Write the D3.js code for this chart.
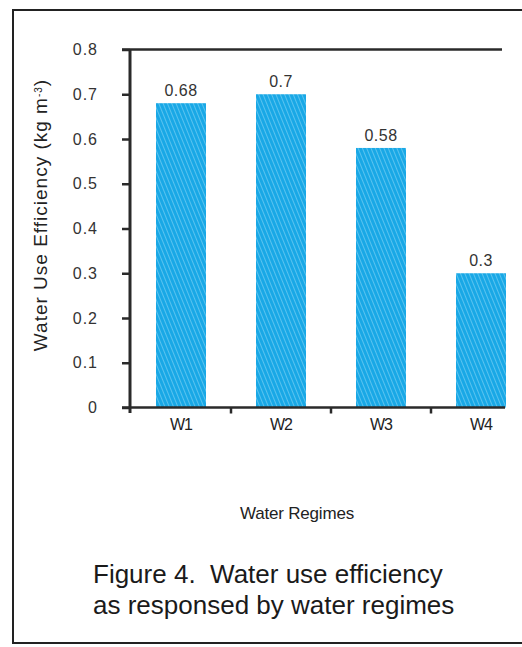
<!DOCTYPE html>
<html>
<head>
<meta charset="utf-8">
<script src="https://cdn.jsdelivr.net/npm/d3@7"></script>
<style>
  body { margin: 0; background: #fff; }
  svg { display: block; font-family: "Liberation Sans", Arial, sans-serif; }
</style>
</head>
<body>
<div id="chart-area"></div>
<script>
// Data
const regimes = ['W1', 'W2', 'W3', 'W4']
const wue = [0.68, 0.7, 0.58, 0.3]
const yTicks = [0, 0.1, 0.2, 0.3, 0.4, 0.5, 0.6, 0.7, 0.8]

const W = 522, H = 647
const svg = d3.select('#chart-area').append('svg')
	.attr('width', W)
	.attr('height', H)

// hatched fill
const pat = svg.append('defs').append('pattern')
	.attr('id', 'hatch')
	.attr('patternUnits', 'userSpaceOnUse')
	.attr('width', 4)
	.attr('height', 4)
	.attr('patternTransform', 'rotate(-22)')
pat.append('rect')
	.attr('width', 4).attr('height', 4)
	.attr('fill', '#19a8e6')
pat.append('line')
	.attr('x1', 0).attr('y1', 0).attr('x2', 0).attr('y2', 4)
	.attr('stroke', '#86d5f5')
	.attr('stroke-width', 1.2)

// frame
svg.append('path')
	.attr('d', `M${W},10 L13,10 L13,643 L${W},643`)
	.attr('fill', 'none')
	.attr('stroke', '#222')
	.attr('stroke-width', 2)

// Scales
const x = d3.scaleBand()
	.domain(regimes)
	.range([131, 531])
	.paddingInner(0.5)
	.paddingOuter(0.25)

const y = d3.scaleLinear()
	.domain([0, 0.8])
	.range([407.5, 49.5])

const axisColor = '#2a2a2a'

// bars
svg.selectAll('rect.bar')
	.data(regimes)
	.enter().append('rect')
	.attr('class', 'bar')
	.attr('x', d => x(d))
	.attr('width', x.bandwidth())
	.attr('y', (d, i) => y(wue[i]))
	.attr('height', (d, i) => y(0) - y(wue[i]))
	.attr('fill', 'url(#hatch)')

// value labels
svg.selectAll('text.val')
	.data(regimes)
	.enter().append('text')
	.attr('class', 'val')
	.attr('x', d => x(d) + x.bandwidth() / 2)
	.attr('y', (d, i) => y(wue[i]) - 7)
	.attr('text-anchor', 'middle')
	.attr('font-size', '16px')
	.attr('letter-spacing', '0.5px')
	.attr('fill', '#333')
	.text((d, i) => wue[i])

// y axis
const yAxis = svg.append('g')
	.attr('transform', 'translate(130,0)')
	.call(d3.axisLeft(y).tickValues(yTicks).tickSize(8).tickPadding(24)
		.tickFormat(d => d === 0 ? '0' : d3.format('.1f')(d)))
yAxis.select('.domain').remove()
yAxis.selectAll('line').attr('stroke', axisColor).attr('stroke-width', 2.5)
yAxis.selectAll('text').attr('font-size', '16px').attr('fill', '#333')
	.attr('letter-spacing', '1px')
	.attr('font-family', '"Liberation Sans", Arial, sans-serif')

svg.append('line')
	.attr('x1', 130).attr('x2', 130)
	.attr('y1', y(0.8)).attr('y2', 413)
	.attr('stroke', axisColor).attr('stroke-width', 3)

// top line at 0.8
svg.append('line')
	.attr('x1', 122).attr('x2', 502)
	.attr('y1', y(0.8)).attr('y2', y(0.8))
	.attr('stroke', axisColor).attr('stroke-width', 2.5)

// x axis
svg.append('line')
	.attr('x1', 122).attr('x2', 505)
	.attr('y1', y(0)).attr('y2', y(0))
	.attr('stroke', axisColor).attr('stroke-width', 2.5)

const bounds = regimes.slice(1).map(d => x(d) - x.step() * x.paddingInner() / 2)
svg.selectAll('line.xtick')
	.data(bounds)
	.enter().append('line')
	.attr('class', 'xtick')
	.attr('x1', d => d).attr('x2', d => d)
	.attr('y1', y(0)).attr('y2', y(0) + 6)
	.attr('stroke', axisColor).attr('stroke-width', 2.5)

svg.selectAll('text.xlab')
	.data(regimes)
	.enter().append('text')
	.attr('class', 'xlab')
	.attr('x', d => x(d) + x.bandwidth() / 2)
	.attr('y', 430)
	.attr('text-anchor', 'middle')
	.attr('font-size', '16px')
	.attr('letter-spacing', '-1px')
	.attr('fill', '#222')
	.text(d => d)

// axis titles
const yTitle = svg.append('text')
	.attr('transform', 'translate(47,215) rotate(-90)')
	.attr('text-anchor', 'middle')
	.attr('font-size', '19px')
	.attr('letter-spacing', '1px')
	.attr('fill', '#222')
yTitle.append('tspan').text('Water Use Efficiency (kg m')
yTitle.append('tspan').attr('baseline-shift', 'super').attr('font-size', '10px').text('-3')
yTitle.append('tspan').text(')')

svg.append('text')
	.attr('x', 297)
	.attr('y', 519)
	.attr('text-anchor', 'middle')
	.attr('font-size', '17px')
	.attr('letter-spacing', '-0.2px')
	.attr('fill', '#222')
	.text('Water Regimes')

// caption
svg.append('text')
	.attr('x', 93)
	.attr('y', 583)
	.attr('font-size', '26px')
	.attr('fill', '#1a1a1a')
	.attr('xml:space', 'preserve')
	.text('Figure 4.  Water use efficiency')

svg.append('text')
	.attr('x', 93)
	.attr('y', 614)
	.attr('font-size', '26px')
	.attr('fill', '#1a1a1a')
	.text('as responsed by water regimes')
</script>
</body>
</html>
